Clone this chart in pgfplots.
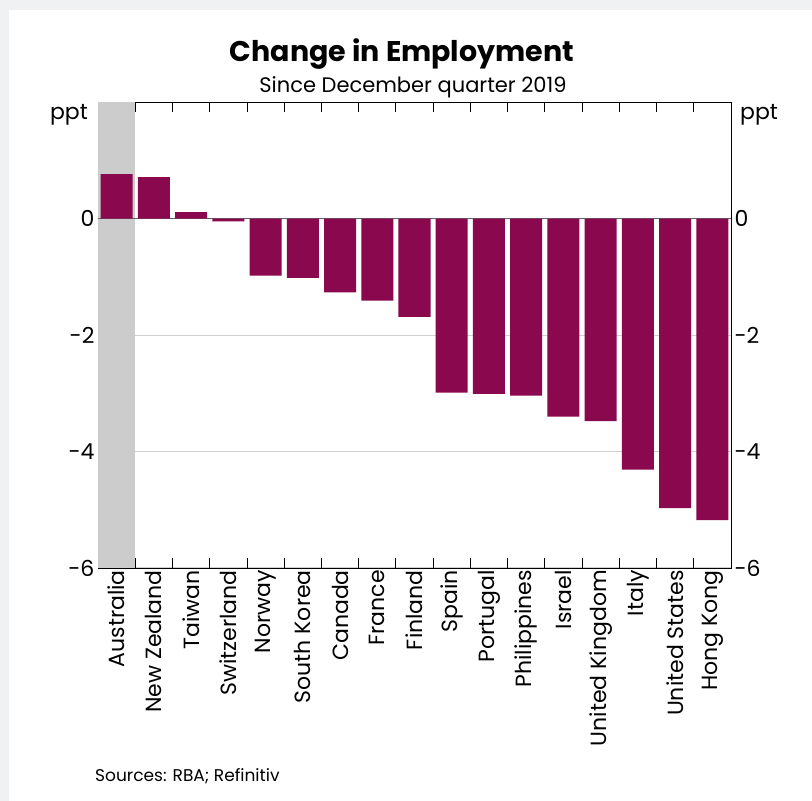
\documentclass[border=0pt]{standalone}
\usepackage{pgfplots}
\pgfplotsset{compat=1.18}
\usepackage{fontspec}
\setmainfont{Poppins}
\definecolor{barc}{RGB}{138,9,78}
\definecolor{bandc}{RGB}{204,204,204}
\definecolor{gridc}{RGB}{208,208,208}
\definecolor{bgg}{RGB}{240,241,243}
\definecolor{zeroc}{RGB}{100,100,100}
\begin{document}
\begin{tikzpicture}[x=1pt,y=1pt]
\path[use as bounding box, fill=white] (0,0) rectangle (812,801);
\fill[bgg] (0,791) rectangle (812,801);
\fill[bgg] (0,0) rectangle (9,801);
\node[anchor=base, font=\fontsize{28.5}{34}\selectfont\bfseries] at (402,739) {Change in Employment};
\node[anchor=base, font=\fontsize{21}{25}\selectfont] at (413,708) {Since December quarter 2019};
\node[anchor=base east, font=\fontsize{22}{26}\selectfont, inner sep=0pt] at (88,681) {ppt};
\node[anchor=base west, font=\fontsize{22}{26}\selectfont, inner sep=0pt] at (740,681) {ppt};
\node[anchor=base west, font=\fontsize{17}{21}\selectfont, inner sep=0pt] at (95,19) {Sources: RBA; Refinitiv};
\begin{axis}[
  at={(98pt,233pt)}, anchor=south west,
  scale only axis, width=633pt, height=466pt,
  xmin=-0.5, xmax=16.5, ymin=-6, ymax=2,
  xtick={0,...,16},
  xticklabels={Australia,New Zealand,Taiwan,Switzerland,Norway,South Korea,Canada,France,Finland,Spain,Portugal,Philippines,Israel,United Kingdom,Italy,United States,Hong Kong},
  xticklabel style={rotate=90, anchor=east, font=\fontsize{22}{26}\selectfont, inner sep=2pt},
  major x tick style={draw=none},
  minor xtick={0.5,1.5,...,15.5},
  minor tick length=10pt,
  tick align=inside,
  minor x tick style={black, line width=0.8pt},
  ytick={-6,-4,-2,0},
  yticklabels={-6,-4,-2,0},
  yticklabel style={font=\fontsize{22}{26}\selectfont},
  major y tick style={draw=none},
  ymajorgrids, grid style={gridc, line width=1pt},
  axis line style={black, line width=0.8pt},
  ytick pos=left,
  clip=false,
]
\fill[bandc] (axis cs:-0.5,-6) rectangle (axis cs:0.5,2);
\draw[zeroc, line width=1pt] (axis cs:-0.5,0) -- (axis cs:16.5,0);
\addplot[ybar, bar width=0.86, fill=barc, draw=none, bar shift=0pt] table[x=x, y=y] {
x y
0 0.76
1 0.71
2 0.11
3 -0.05
4 -0.98
5 -1.02
6 -1.27
7 -1.41
8 -1.69
9 -2.99
10 -3.01
11 -3.04
12 -3.40
13 -3.48
14 -4.31
15 -4.97
16 -5.18
};
\node[anchor=west, font=\fontsize{22}{26}\selectfont] at (axis cs:16.5,0) {0};
\node[anchor=west, font=\fontsize{22}{26}\selectfont] at (axis cs:16.5,-2) {-2};
\node[anchor=west, font=\fontsize{22}{26}\selectfont] at (axis cs:16.5,-4) {-4};
\node[anchor=west, font=\fontsize{22}{26}\selectfont] at (axis cs:16.5,-6) {-6};
\end{axis}
\end{tikzpicture}
\end{document}
